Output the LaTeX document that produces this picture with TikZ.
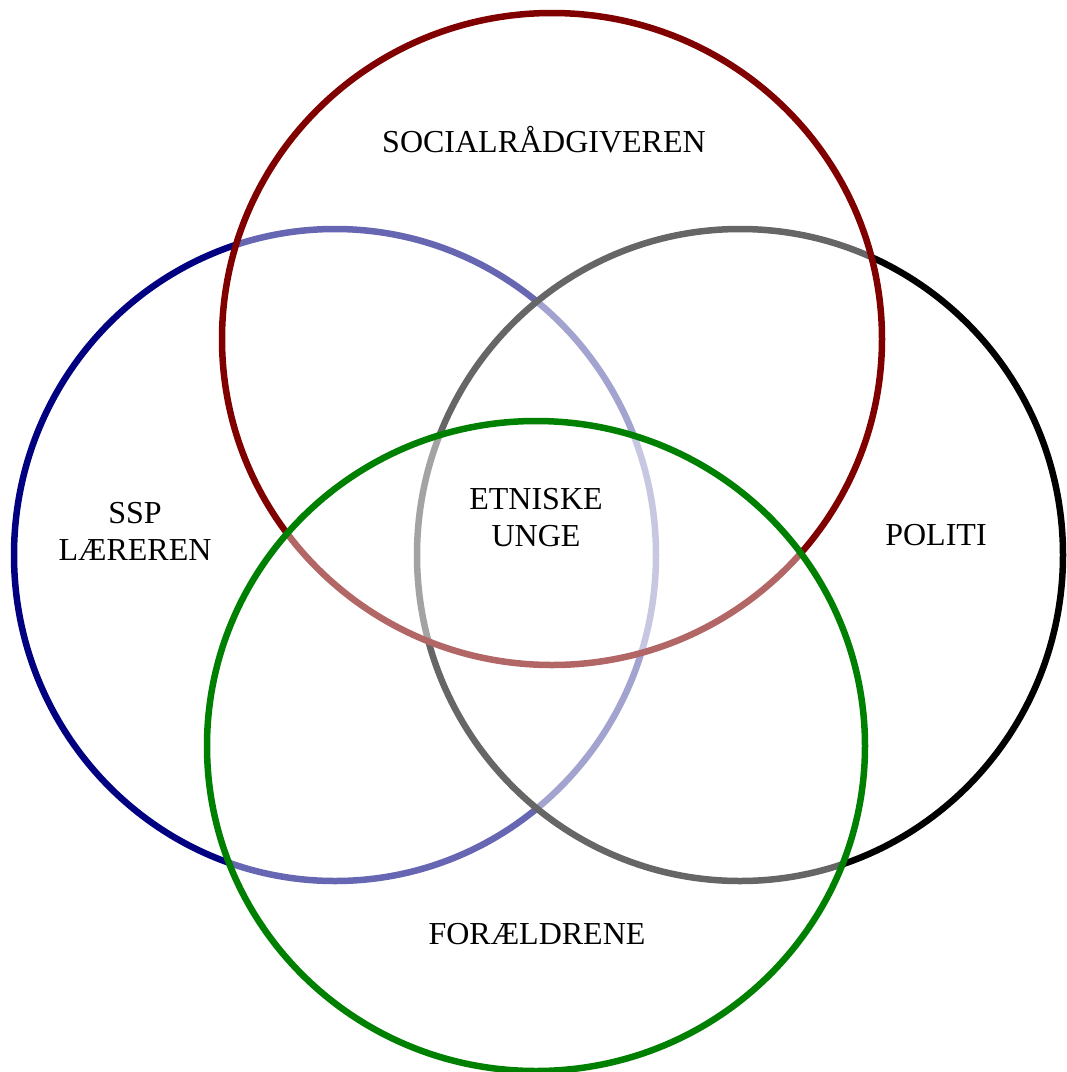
\documentclass[tikz,border=0pt]{standalone}
\usepackage{fontspec}
\setmainfont{Liberation Serif}
\begin{document}
\begin{tikzpicture}[x=1pt,y=-1pt,
  ring/.style={line width=6.5pt, fill=white, fill opacity=0.4, draw opacity=1},
  lbl/.style={font=\fontsize{32}{37}\selectfont, align=center, text=black, inner sep=0pt}]
\useasboundingbox (0,0) rectangle (1067,1072);
\definecolor{cblue}{RGB}{0,0,128}
\definecolor{cred}{RGB}{128,0,0}
\definecolor{cgreen}{RGB}{0,128,0}
\draw[ring, draw=cblue] (335,555) ellipse [x radius=321, y radius=326];
\draw[ring, draw=black] (740,555) ellipse [x radius=323, y radius=326];
\draw[ring, draw=cred] (552,339) ellipse [x radius=330, y radius=326];
\draw[ring, draw=cgreen] (536,746) ellipse [x radius=329, y radius=325];
\node[lbl] (soc) at (544,140) {SOCIALRÅDGIVEREN};
\node[lbl] (ssp) at (135,531) {SSP\\LÆREREN};
\node[lbl] (etn) at (536,518) {ETNISKE\\UNGE};
\node[lbl] (pol) at (936,535) {POLITI};
\node[lbl] (for) at (537,934) {FORÆLDRENE};
\end{tikzpicture}
\end{document}
